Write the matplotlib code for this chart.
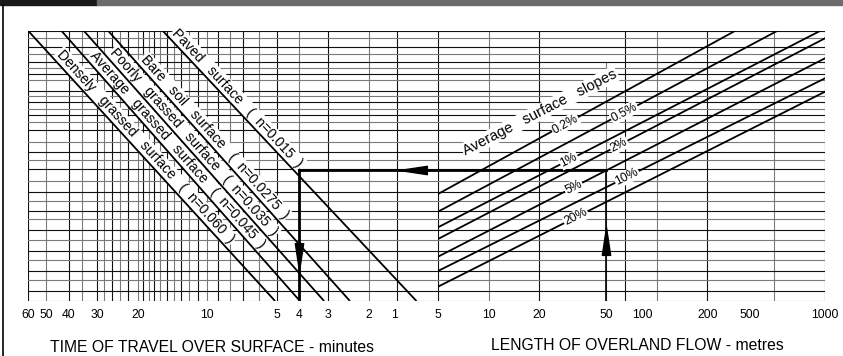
import numpy as np
import matplotlib
matplotlib.use("Agg")
import matplotlib.pyplot as plt
from matplotlib import transforms
from matplotlib.path import Path
from matplotlib.patches import Rectangle

plt.rcParams['font.family'] = ['Liberation Sans', 'DejaVu Sans']

# ---- scales -------------------------------------------------------------
# time of travel (minutes), log scale running right to left
time_grid = [60, 50, 40, 35, 30, 28, 26, 24, 22, 20, 19, 18, 17, 16, 15, 14,
             13, 12, 11, 10, 9, 8, 7, 6, 5, 4, 3, 2, 1.5, 1]
time_tick_labels = ['60', '50', '40', '30', '20', '10', '5', '4', '3', '2', '1']
time_tick_values = [60, 50, 40, 30, 20, 10, 5, 4, 3, 2, 1.55]

# length of overland flow (metres), log scale
length_grid = [5, 10, 20, 50, 65, 100, 200, 500, 1000]
length_tick_labels = ['5', '10', '20', '50', '100', '200', '500', '1000']
length_tick_values = [5, 10, 20, 50, 82, 200, 355, 1000]

# turning line index (0 at the base, 270 at the top of the chart)
turn_grid = [270, 262.7, 254.3, 246.7, 239.3, 232.7, 227, 221, 210.3, 205,
             198.7, 191.7, 186, 179.3, 170.7, 159.3, 149.3, 141, 132, 120,
             109.3, 100.3, 90, 82, 71, 61, 50, 41, 30, 21, 10.3, 0]

# ---- surface roughness lines (left part) ---------------------------------
surface_names = [['Densely', 'grassed', 'surface'],
                 ['Average', 'grassed', 'surface'],
                 ['Poorly', 'grassed', 'surface'],
                 ['Bare', 'soil', 'surface'],
                 ['Paved', 'surface']]
manning_n = ['0.060', '0.045', '0.035', '0.0275', '0.015']
surface_time_base = [5.09, 3.97, 3.12, 2.41, 1.24]
surface_time_top = [59.8, 42.9, 34.3, 26.9, 15.6]

# ---- slope lines (right part) --------------------------------------------
slope_labels = ['0.2%', '0.5%', '1%', '2%', '5%', '10%', '20%']
slope_index_5m = [107, 89.3, 73.7, 62, 44.3, 30, 14.3]
slope_index_1000m = [319.5, 295.6, 272.6, 262.7, 242.7, 222.7, 209.3]

# worked example: 50 m of flow on a 5 % slope, paved surface
example_length = 50
example_slope = '5%'
example_time = 4

# ---- layout ----------------------------------------------------------------
W, H = 843, 356
fig = plt.figure(figsize=(W / 100, H / 100), dpi=100)
fig.patch.set_facecolor('white')


def box(x0, y0, x1, y1):
    return [x0 / W, 1 - y1 / H, (x1 - x0) / W, (y1 - y0) / H]


axL = fig.add_axes(box(28, 31, 438, 301))
axR = fig.add_axes(box(438, 31, 825, 301))

axL.set_xscale('log')
axL.set_xlim(60, 1)
axR.set_xscale('log')
axR.set_xlim(5, 1000)
for ax in (axL, axR):
    ax.set_ylim(0, 270)
    ax.set_yticks([])
    for s in ax.spines.values():
        s.set_visible(False)
    ax.patch.set_alpha(0)
    ax.tick_params(axis='x', which='both', length=0, pad=6, labelsize=8.8)

axL.set_xticks(time_tick_values, time_tick_labels)
axR.set_xticks(length_tick_values, length_tick_labels)
axR.set_xticks([], minor=True)
axL.set_xticks([], minor=True)

grid_dark = '#111111'
grid_grey = '#7a7a7a'

for i, t in enumerate(time_grid):
    axL.axvline(t, color=grid_dark if i % 2 == 0 else grid_grey, lw=0.8, zorder=1)
for i, L in enumerate(length_grid):
    # the 50 m line stops short of the top, under the slope caption
    top = 239 / 270 if L == 50 else 1
    axR.axvline(L, ymax=top, color=grid_dark if i % 2 == 0 else grid_grey,
                lw=0.8, zorder=1)
for i, h in enumerate(turn_grid):
    c = grid_dark if i % 2 == 0 else grid_grey
    axL.axhline(h, color=c, lw=0.8, zorder=1)
    axR.axhline(h, color=c, lw=0.8, zorder=1)


def display_angle(ax, p0, p1):
    a = ax.transData.transform(p0)
    b = ax.transData.transform(p1)
    return np.degrees(np.arctan2(b[1] - a[1], b[0] - a[0]))


# surface lines with their labels, written downhill along each line
gap = ' ' * 3
label_start_index = [243, 242, 245, 238, 264]
for words, n, tb, tt, hs in zip(surface_names, manning_n, surface_time_base,
                                surface_time_top, label_start_index):
    axL.plot([tb, tt], [0, 270], color='black', lw=1.3, zorder=4,
             solid_capstyle='butt')
    ang = display_angle(axL, (tt, 270), (tb, 0))
    frac = hs / 270
    t_here = 10 ** (np.log10(tb) + frac * (np.log10(tt) - np.log10(tb)))
    up = np.radians(ang + 90)
    off = transforms.offset_copy(axL.transData, fig=fig,
                                 x=4.0 * np.cos(up), y=4.0 * np.sin(up),
                                 units='dots')
    label = gap.join(words) + gap + f'(  n={n}  )'
    axL.text(t_here, hs, label, rotation=ang,
             rotation_mode='anchor', ha='left', va='baseline', fontsize=10,
             transform=off, zorder=3,
             bbox=dict(facecolor='white', edgecolor='none', pad=1.0))

# slope lines with their labels
slope_label_length = [28.5, 64, 30, 59.5, 32, 66.5, 33]
for lab, h5, h1000, Lp in zip(slope_labels, slope_index_5m, slope_index_1000m,
                              slope_label_length):
    axR.plot([5, 1000], [h5, h1000], color='black', lw=1.3, zorder=4)
    ang = display_angle(axR, (5, h5), (1000, h1000))
    h_here = h5 + (h1000 - h5) * np.log10(Lp / 5) / np.log10(200)
    axR.text(Lp, h_here, lab, rotation=ang, rotation_mode='anchor',
             ha='center', va='center', fontsize=8.8, zorder=5,
             bbox=dict(facecolor='white', edgecolor='none', pad=0.6))

ang0 = display_angle(axR, (5, slope_index_5m[0]), (1000, slope_index_1000m[0]))
axR.text(7.3, 146, 'Average   surface   slopes', rotation=ang0 - 1.5,
         rotation_mode='anchor', ha='left', va='baseline', fontsize=10.6,
         zorder=3, bbox=dict(facecolor='white', edgecolor='none', pad=0.8))

# worked example path
k = slope_labels.index(example_slope)
h_ex = slope_index_5m[k] + (slope_index_1000m[k] - slope_index_5m[k]) * \
    np.log10(example_length / 5) / np.log10(200)
axR.plot([example_length, example_length], [0, h_ex], color='black', lw=1.2,
         zorder=4)
axR.plot([5, example_length], [h_ex, h_ex], color='black', lw=2.0, zorder=4)
axL.plot([example_time, 1], [h_ex, h_ex], color='black', lw=2.0, zorder=4)
axL.plot([example_time, example_time], [0, h_ex], color='black', lw=2.0,
         zorder=4)

head = Path([(0, 1), (-0.3, -1), (0.3, -1), (0, 1)],
            [Path.MOVETO, Path.LINETO, Path.LINETO, Path.CLOSEPOLY])
down = head.transformed(transforms.Affine2D().rotate_deg(180))
left = head.transformed(transforms.Affine2D().rotate_deg(90))
axL.plot([example_time], [44], marker=down, ms=20, color='black', zorder=6)
axL.plot([1.29], [h_ex], marker=left, ms=20, color='black', zorder=6)
axR.plot([example_length], [60], marker=head, ms=20, color='black', zorder=6)

# axis titles
fig.text(211.5 / W, 1 - 347 / H, 'TIME OF TRAVEL OVER SURFACE - minutes',
         ha='center', va='center', fontsize=11.3)
fig.text(637 / W, 1 - 345 / H, 'LENGTH OF OVERLAND FLOW - metres',
         ha='center', va='center', fontsize=11.3)

# banner and frame
fig.patches.append(Rectangle((0, 1 - 5 / H), 97 / W, 5 / H,
                             transform=fig.transFigure, color='#1a1a1a'))
fig.patches.append(Rectangle((97 / W, 1 - 5 / H), 1 - 97 / W, 5 / H,
                             transform=fig.transFigure, color='#6b6b6b'))
fig.lines.append(plt.Line2D([3.5 / W, 3.5 / W], [0, 1 - 5 / H],
                            transform=fig.transFigure, color='black', lw=1.2))

fig.savefig('out.png', dpi=100)
